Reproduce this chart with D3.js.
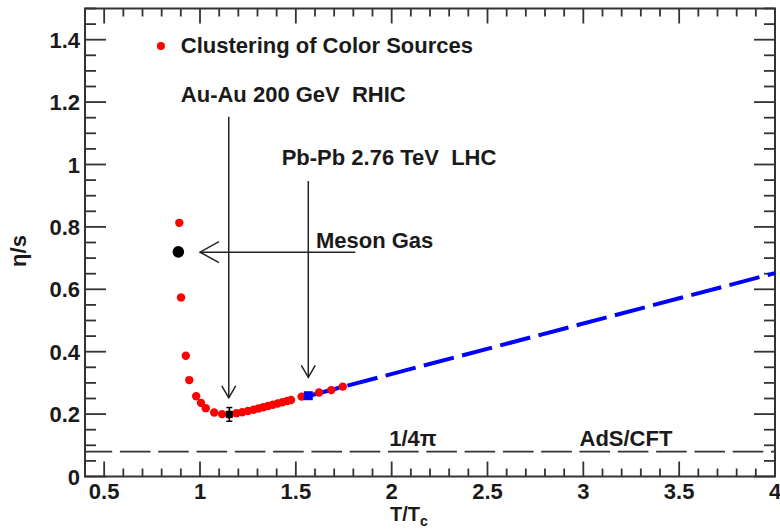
<!DOCTYPE html>
<html>
<head>
<meta charset="utf-8">
<script src="https://cdn.jsdelivr.net/npm/d3@7"></script>
<style>
  html, body { margin: 0; padding: 0; background: #fff; }
  svg { display: block; }
  text { font-family: "Liberation Sans", Arial, sans-serif; font-weight: bold; fill: #1a1a1a; }
</style>
</head>
<body>
<svg id="chart" width="780" height="532"></svg>
<script>
// Clustering of Color Sources: eta/s versus T/Tc
const clusterT   = [0.892, 0.901, 0.926, 0.944, 0.980, 1.005, 1.030, 1.074, 1.115, 1.152,
                    1.190, 1.220, 1.250, 1.280, 1.305, 1.330, 1.355, 1.380, 1.405, 1.430,
                    1.455, 1.475, 1.530, 1.621, 1.685, 1.745];
const clusterEta = [0.813, 0.574, 0.387, 0.309, 0.257, 0.236, 0.219, 0.205, 0.200, 0.199,
                    0.203, 0.206, 0.210, 0.214, 0.218, 0.222, 0.226, 0.230, 0.234, 0.238,
                    0.242, 0.245, 0.256, 0.269, 0.277, 0.288];

// Meson gas estimate
const mesonT   = [0.887];
const mesonEta = [0.720];

// RHIC Au-Au 200 GeV point with its uncertainty
const rhicT   = [1.153];
const rhicEta = [0.199];
const rhicErr = [0.022];

// LHC Pb-Pb 2.76 TeV point
const lhcT   = [1.565];
const lhcEta = [0.259];

// High-temperature extrapolation (blue dashed)
const extrapT   = [1.57, 4.0];
const extrapEta = [0.259, 0.652];

// AdS/CFT lower bound 1/4pi
const adsEta = 0.0796;

// Axis ticks
const xMajor = [0.5, 1, 1.5, 2, 2.5, 3, 3.5, 4];
const xMajorLabels = ["0.5", "1", "1.5", "2", "2.5", "3", "3.5", "4"];
const yMajor = [0, 0.2, 0.4, 0.6, 0.8, 1, 1.2, 1.4];
const yMajorLabels = ["0", "0.2", "0.4", "0.6", "0.8", "1", "1.2", "1.4"];

// Annotation arrows in data units (tip at arrowTo)
const arrowFrom = [[1.15, 1.153], [1.565, 0.947], [1.81, 0.719]];
const arrowTo   = [[1.15, 0.252], [1.565, 0.318], [1.00, 0.719]];

const svg = d3.select("#chart");
const x = d3.scaleLinear().domain([0.4, 4.0]).range([85, 775]);
const y = d3.scaleLinear().domain([0, 1.5]).range([476.5, 8.5]);

const frameColor = "#333";

// minor ticks
const xMinor = d3.range(5, 41).map(d => d / 10).filter(v => !xMajor.some(m => Math.abs(m - v) < 1e-9));
const yMinor = d3.range(1, 31).map(d => d * 0.05).filter(v => !yMajor.some(m => Math.abs(m - v) < 1e-9));

const g = svg.append("g");

// bottom and top axes
function xTicks(vals, len, baseY, dir) {
  g.selectAll(null).data(vals).enter().append("line")
    .attr("x1", d => x(d)).attr("x2", d => x(d))
    .attr("y1", baseY).attr("y2", baseY - dir * len)
    .attr("stroke", frameColor).attr("stroke-width", 1.8);
}
xTicks(xMajor, 15, y(0), 1);
xTicks(xMinor, 8, y(0), 1);
xTicks(xMajor, 15, y(1.5), -1);
xTicks(xMinor, 8, y(1.5), -1);

// left and right axes
function yTicks(vals, len, baseX, dir) {
  g.selectAll(null).data(vals).enter().append("line")
    .attr("y1", d => y(d)).attr("y2", d => y(d))
    .attr("x1", baseX).attr("x2", baseX + dir * len)
    .attr("stroke", frameColor).attr("stroke-width", 1.8);
}
yTicks(yMajor, 21, x(0.4), 1);
yTicks(yMinor, 11, x(0.4), 1);
yTicks(yMajor, 21, x(4.0), -1);
yTicks(yMinor, 11, x(4.0), -1);

// frame
g.append("rect")
  .attr("x", x(0.4)).attr("y", y(1.5))
  .attr("width", x(4.0) - x(0.4)).attr("height", y(0) - y(1.5))
  .attr("fill", "none").attr("stroke", frameColor).attr("stroke-width", 2);

// tick labels
g.selectAll(null).data(xMajor).enter().append("text")
  .attr("x", d => x(d)).attr("y", 499)
  .attr("text-anchor", "middle").attr("font-size", 22)
  .text((d, i) => xMajorLabels[i]);
g.selectAll(null).data(yMajor).enter().append("text")
  .attr("x", 80).attr("y", d => y(d) + 8)
  .attr("text-anchor", "end").attr("font-size", 22)
  .text((d, i) => yMajorLabels[i]);

// axis titles
const xt = g.append("text").attr("x", 390).attr("y", 521).attr("font-size", 20);
xt.append("tspan").text("T/T");
xt.append("tspan").attr("font-size", 14).attr("dy", 5).text("c");

g.append("text")
  .attr("transform", "translate(26,251) rotate(-90)")
  .attr("text-anchor", "middle").attr("font-size", 22)
  .text("\u03B7/s");

// AdS/CFT bound
g.append("line")
  .attr("x1", x(0.4)).attr("x2", x(4.0))
  .attr("y1", y(adsEta)).attr("y2", y(adsEta))
  .attr("stroke", "#333").attr("stroke-width", 1.6)
  .attr("stroke-dasharray", "30.6,7.7").attr("stroke-dashoffset", 3.4);

// high-T extrapolation
const line = d3.line().x(d => x(d[0])).y(d => y(d[1]));
g.append("path")
  .datum(extrapT.map((t, i) => [t, extrapEta[i]]))
  .attr("d", line)
  .attr("fill", "none").attr("stroke", "#0000ff").attr("stroke-width", 4)
  .attr("stroke-dasharray", "31,8.5");

// arrows
function arrow(p0, p1, headLen, headHalf) {
  const ax = x(p0[0]), ay = y(p0[1]), bx = x(p1[0]), by = y(p1[1]);
  const dx = bx - ax, dy = by - ay, L = Math.hypot(dx, dy);
  const ux = dx / L, uy = dy / L;
  const px = -uy, py = ux;
  g.append("line").attr("x1", ax).attr("y1", ay).attr("x2", bx).attr("y2", by)
    .attr("stroke", "#222").attr("stroke-width", 1.5);
  const path = d3.path();
  path.moveTo(bx - ux * headLen + px * headHalf, by - uy * headLen + py * headHalf);
  path.lineTo(bx, by);
  path.lineTo(bx - ux * headLen - px * headHalf, by - uy * headLen - py * headHalf);
  g.append("path").attr("d", path.toString())
    .attr("fill", "none").attr("stroke", "#222").attr("stroke-width", 1.5);
}
arrow(arrowFrom[0], arrowTo[0], 12, 7);
arrow(arrowFrom[1], arrowTo[1], 12, 7);
arrow(arrowFrom[2], arrowTo[2], 19, 10.5);

// clustering points
g.selectAll(null).data(clusterT).enter().append("circle")
  .attr("cx", d => x(d)).attr("cy", (d, i) => y(clusterEta[i]))
  .attr("r", 4.2).attr("fill", "#ff0000");

// meson gas point
g.selectAll(null).data(mesonT).enter().append("circle")
  .attr("cx", d => x(d)).attr("cy", (d, i) => y(mesonEta[i]))
  .attr("r", 5.8).attr("fill", "#000");

// RHIC point with error bar
rhicT.forEach((t, i) => {
  const cx = x(t);
  g.append("line").attr("x1", cx).attr("x2", cx)
    .attr("y1", y(rhicEta[i] - rhicErr[i])).attr("y2", y(rhicEta[i] + rhicErr[i]))
    .attr("stroke", "#000").attr("stroke-width", 1.5);
  [rhicEta[i] - rhicErr[i], rhicEta[i] + rhicErr[i]].forEach(v => {
    g.append("line").attr("x1", cx - 3).attr("x2", cx + 3)
      .attr("y1", y(v)).attr("y2", y(v)).attr("stroke", "#000").attr("stroke-width", 1.5);
  });
  g.append("rect").attr("x", cx - 3.5).attr("y", y(rhicEta[i]) - 3.5)
    .attr("width", 7).attr("height", 7).attr("fill", "#000");
});

// LHC point
g.selectAll(null).data(lhcT).enter().append("rect")
  .attr("x", d => x(d) - 4.5).attr("y", (d, i) => y(lhcEta[i]) - 4.5)
  .attr("width", 9).attr("height", 9).attr("fill", "#0000ff");

// legend
g.append("circle").attr("cx", x(0.796)).attr("cy", y(1.380)).attr("r", 4).attr("fill", "#ff0000");
g.append("text").attr("x", x(0.9)).attr("y", y(1.357)).attr("font-size", 22)
  .text("Clustering of Color Sources");

// annotations
g.append("text").attr("x", x(0.9)).attr("y", y(1.201)).attr("font-size", 22)
  .style("white-space", "pre")
  .text("Au-Au 200 GeV  RHIC");
g.append("text").attr("x", x(1.426)).attr("y", y(1.0)).attr("font-size", 22)
  .style("white-space", "pre")
  .text("Pb-Pb 2.76 TeV  LHC");
g.append("text").attr("x", x(1.605)).attr("y", y(0.731)).attr("font-size", 22)
  .text("Meson Gas");
g.append("text").attr("x", x(1.987)).attr("y", y(0.098)).attr("font-size", 22)
  .text("1/4\u03C0");
g.append("text").attr("x", x(2.98)).attr("y", y(0.098)).attr("font-size", 22)
  .text("AdS/CFT");
</script>
</body>
</html>
